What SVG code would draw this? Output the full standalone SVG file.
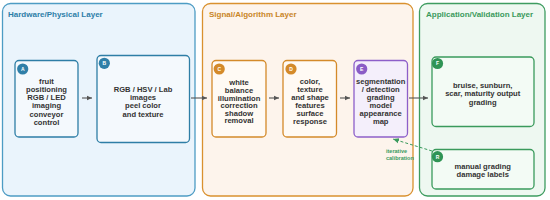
<svg xmlns="http://www.w3.org/2000/svg" width="550" height="200" viewBox="0 0 550 200">
<defs>
<marker id="ah" markerWidth="6" markerHeight="6" refX="5" refY="3" orient="auto" markerUnits="userSpaceOnUse"><path d="M0,0.8 L5,3 L0,5.2 z" fill="#555"/></marker>
<marker id="ahg" markerWidth="7" markerHeight="7" refX="6" refY="3.5" orient="auto" markerUnits="userSpaceOnUse"><path d="M0,0.8 L6,3.5 L0,6.2 z" fill="#3a9a5c"/></marker>
<style>
text{font-family:"Liberation Sans",Arial,sans-serif;font-weight:bold;}
.t{font-size:7.6px;fill:#333;text-anchor:middle;}
.title{font-size:8px;}
.b{font-size:5px;fill:#fff;text-anchor:middle;}
.lb{fill:#eaf4fc;stroke:#4d9cc4;stroke-width:1.3;}
.ls{fill:#fdf4ec;stroke:#d9912f;stroke-width:1.3;}
.la{fill:#eef8f1;stroke:#3e9c60;stroke-width:1.3;}
.nb{fill:#f4f9fd;stroke:#2e7ea6;stroke-width:1.3;}
.ns{fill:#fffaf4;stroke:#d48a2a;stroke-width:1.3;}
.np{fill:#f4effb;stroke:#8d5fc9;stroke-width:1.3;}
.na{fill:#f3fbf5;stroke:#3a9a5c;stroke-width:1.3;}
.e{stroke:#555;stroke-width:1.1;fill:none;marker-end:url(#ah);}
</style>
</defs>
<g id="layer-hardware">
<rect class="lb" x="2.5" y="3.5" width="192.5" height="192.5" rx="8"/>
<text class="title" x="8" y="17" fill="#2d7ea8">Hardware/Physical Layer</text>
</g>
<g id="layer-signal">
<rect class="ls" x="202.5" y="3.5" width="210.5" height="192.5" rx="8"/>
<text class="title" x="209" y="17" fill="#c98527">Signal/Algorithm Layer</text>
</g>
<g id="layer-app">
<rect class="la" x="419.5" y="3.5" width="125.5" height="192.5" rx="8"/>
<text class="title" x="426" y="17" fill="#3a9a5c">Application/Validation Layer</text>
</g>
<g id="connectors">
<line class="e" x1="82" y1="98" x2="92" y2="98"/>
<line class="e" x1="191" y1="98" x2="207" y2="98"/>
<line class="e" x1="269" y1="98" x2="279" y2="98"/>
<line class="e" x1="340" y1="98" x2="350" y2="98"/>
<line class="e" x1="409" y1="98" x2="428" y2="98"/>
<line x1="432" y1="151" x2="393" y2="139" stroke="#3a9a5c" stroke-width="1" stroke-dasharray="3,2" marker-end="url(#ahg)"/>
<text x="386" y="153" font-size="5.5" fill="#3a9a5c">iterative</text>
<text x="386" y="159.5" font-size="5.5" fill="#3a9a5c">calibration</text>
</g>
<g id="node-A">
<rect class="nb" x="15" y="60.5" width="63" height="76.5" rx="4"/>
<circle cx="22.7" cy="69" r="5.6" fill="#2f7fa8"/>
<text class="b" x="22.7" y="70.8">A</text>
<text class="t" x="46.5" y="83.7">fruit</text>
<text class="t" x="46.5" y="91.9">positioning</text>
<text class="t" x="46.5" y="100.1">RGB / LED</text>
<text class="t" x="46.5" y="108.3">imaging</text>
<text class="t" x="46.5" y="116.5">conveyor</text>
<text class="t" x="46.5" y="124.5">control</text>
</g>
<g id="node-B">
<rect class="nb" x="97" y="55.5" width="92.5" height="87" rx="4"/>
<circle cx="104.3" cy="63.3" r="5.6" fill="#2f7fa8"/>
<text class="b" x="104.3" y="65.1">B</text>
<text class="t" x="143" y="92">RGB / HSV / Lab</text>
<text class="t" x="143" y="99.7">images</text>
<text class="t" x="143" y="108">peel color</text>
<text class="t" x="143" y="116.6">and texture</text>
</g>
<g id="node-C">
<rect class="ns" x="212" y="60.5" width="54" height="76.5" rx="4"/>
<circle cx="219.2" cy="69" r="5.6" fill="#d48a2a"/>
<text class="b" x="219.2" y="70.8">C</text>
<text class="t" x="239" y="85.4">white</text>
<text class="t" x="239" y="93">balance</text>
<text class="t" x="239" y="100.6">illumination</text>
<text class="t" x="239" y="108.2">correction</text>
<text class="t" x="239" y="115.8">shadow</text>
<text class="t" x="239" y="123.3">removal</text>
</g>
<g id="node-D">
<rect class="ns" x="283" y="60.5" width="53.5" height="76.5" rx="4"/>
<circle cx="291" cy="69" r="5.6" fill="#d48a2a"/>
<text class="b" x="291" y="70.8">D</text>
<text class="t" x="310" y="83.7">color,</text>
<text class="t" x="310" y="91.8">texture</text>
<text class="t" x="310" y="99.9">and shape</text>
<text class="t" x="310" y="108">features</text>
<text class="t" x="310" y="116.1">surface</text>
<text class="t" x="310" y="124.2">response</text>
</g>
<g id="node-E">
<rect class="np" x="354" y="60.5" width="53.5" height="76.5" rx="4"/>
<circle cx="361.7" cy="69" r="5.6" fill="#8a5cc6"/>
<text class="b" x="361.7" y="70.8">E</text>
<text class="t" x="380.7" y="83.7">segmentation</text>
<text class="t" x="380.7" y="91.8">/ detection</text>
<text class="t" x="380.7" y="99.9">grading</text>
<text class="t" x="380.7" y="108">model</text>
<text class="t" x="380.7" y="116.1">appearance</text>
<text class="t" x="380.7" y="124.2">map</text>
</g>
<g id="node-F">
<rect class="na" x="432" y="57" width="102" height="69.5" rx="4"/>
<circle cx="437.5" cy="63.5" r="5.6" fill="#2f9455"/>
<text class="b" x="437.5" y="65.3">F</text>
<text class="t" x="482.7" y="87.7">bruise, sunburn,</text>
<text class="t" x="482.7" y="96.4">scar, maturity output</text>
<text class="t" x="482.7" y="105.1">grading</text>
</g>
<g id="node-R">
<rect class="na" x="432" y="149.5" width="102" height="39.5" rx="4"/>
<circle cx="437.5" cy="156.7" r="5.6" fill="#2f9455"/>
<text class="b" x="437.5" y="158.5">R</text>
<text class="t" x="482.7" y="168.7">manual grading</text>
<text class="t" x="482.7" y="177.4">damage labels</text>
</g>
</svg>
